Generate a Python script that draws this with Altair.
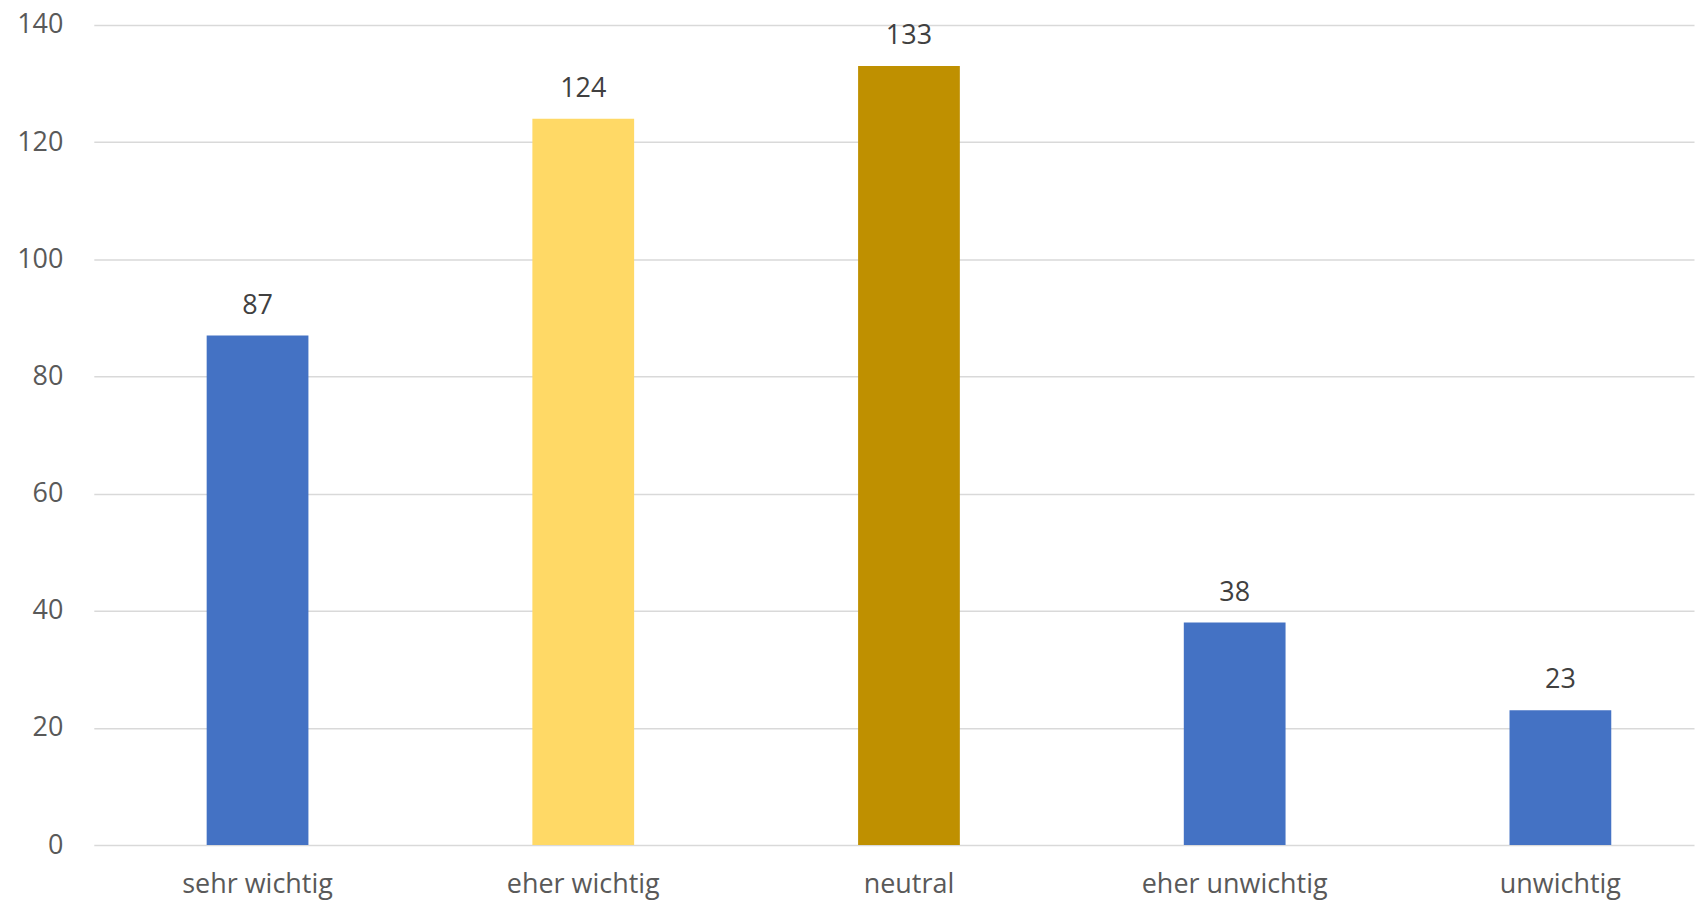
import altair as alt
import pandas as pd

categories = ["sehr wichtig", "eher wichtig", "neutral", "eher unwichtig", "unwichtig"]
values = [87, 124, 133, 38, 23]
colors = ["#4472C4", "#FFD966", "#BF9000", "#4472C4", "#4472C4"]

df = pd.DataFrame({"cat": categories, "val": values, "col": colors})

FONT = "Open Sans"

x = alt.X(
    "cat:N",
    sort=categories,
    title=None,
    scale=alt.Scale(paddingInner=0.6876, paddingOuter=0.3003, align=0.577, round=False),
    axis=alt.Axis(
        labelAngle=0, ticks=False, domain=False, labelFontSize=27, labelFont=FONT,
        labelColor="#595959", labelPadding=27, grid=False, labelLimit=0,
    ),
)
y = alt.Y(
    "val:Q",
    title=None,
    scale=alt.Scale(domain=[0, 140], nice=False),
    axis=alt.Axis(
        values=[0, 20, 40, 60, 80, 100, 120, 140], ticks=False, domain=False,
        labelFontSize=27, labelFont=FONT, labelColor="#595959", labelPadding=31,
        gridColor="#D9D9D9", gridWidth=1.5,
    ),
)

bars = alt.Chart(df).mark_bar().encode(x=x, y=y, color=alt.Color("col:N", scale=None))
labels = alt.Chart(df).mark_text(
    baseline="bottom", dy=-16, fontSize=27, font=FONT, color="#404040"
).encode(x=x, y=y, text="val:Q")

chart = (bars + labels).properties(
    width=1604, height=822,
    autosize=alt.AutoSizeParams(type="none"),
    padding={"left": 86, "top": 16, "right": 4, "bottom": 56},
).configure_view(stroke=None)

chart.save("out.html", embed_options={"renderer": "svg", "actions": False})
